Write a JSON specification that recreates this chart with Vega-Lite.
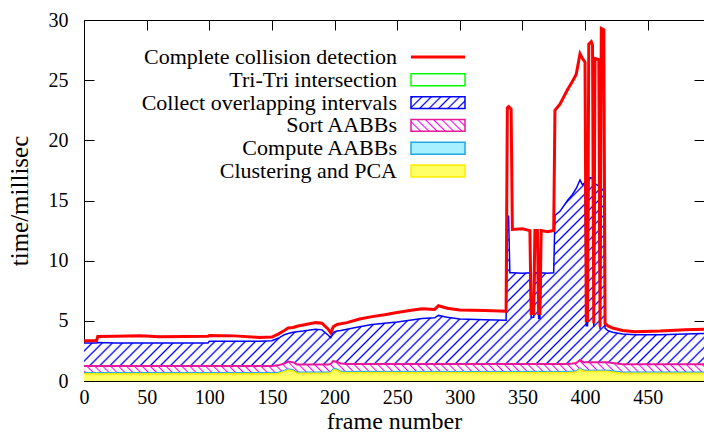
{
  "$schema": "https://vega.github.io/schema/vega-lite/v6.json",
  "width": 620,
  "height": 361,
  "autosize": {"type": "none"},
  "padding": {"left": 84, "top": 20, "right": 0, "bottom": 52},
  "background": "white",
  "config": {
    "font": "Liberation Serif, Times New Roman, Times, serif",
    "view": {"stroke": "black", "strokeWidth": 1}
  },
  "data": {"values": [
    {"f":0,"p":0.6,"a":0.7,"s":1.25,"c":3.15,"t":3.35},
    {"f":10,"p":0.6,"a":0.7,"s":1.25,"c":3.15,"t":3.35},
    {"f":11,"p":0.6,"a":0.7,"s":1.25,"c":3.2,"t":3.7},
    {"f":25,"p":0.6,"a":0.7,"s":1.25,"c":3.15,"t":3.72},
    {"f":45,"p":0.6,"a":0.7,"s":1.25,"c":3.15,"t":3.76},
    {"f":60,"p":0.6,"a":0.7,"s":1.25,"c":3.15,"t":3.68},
    {"f":80,"p":0.6,"a":0.7,"s":1.25,"c":3.15,"t":3.7},
    {"f":99,"p":0.6,"a":0.7,"s":1.25,"c":3.15,"t":3.72},
    {"f":100,"p":0.6,"a":0.7,"s":1.25,"c":3.3,"t":3.78},
    {"f":120,"p":0.6,"a":0.7,"s":1.25,"c":3.3,"t":3.75},
    {"f":140,"p":0.6,"a":0.7,"s":1.25,"c":3.3,"t":3.62},
    {"f":150,"p":0.6,"a":0.7,"s":1.25,"c":3.35,"t":3.65},
    {"f":155,"p":0.62,"a":0.72,"s":1.3,"c":3.55,"t":3.9},
    {"f":160,"p":0.8,"a":0.9,"s":1.45,"c":3.85,"t":4.2},
    {"f":163,"p":0.92,"a":1.02,"s":1.62,"c":3.95,"t":4.4},
    {"f":167,"p":0.85,"a":0.95,"s":1.55,"c":4.05,"t":4.45},
    {"f":170,"p":0.65,"a":0.75,"s":1.38,"c":4.1,"t":4.55},
    {"f":175,"p":0.65,"a":0.75,"s":1.38,"c":4.15,"t":4.65},
    {"f":185,"p":0.65,"a":0.75,"s":1.38,"c":4.3,"t":4.85},
    {"f":190,"p":0.65,"a":0.75,"s":1.38,"c":4.25,"t":4.8},
    {"f":195,"p":0.65,"a":0.75,"s":1.38,"c":3.8,"t":4.3},
    {"f":197,"p":0.68,"a":0.78,"s":1.42,"c":3.6,"t":4.0},
    {"f":199,"p":0.95,"a":1.05,"s":1.65,"c":4.05,"t":4.5},
    {"f":202,"p":0.9,"a":1.0,"s":1.6,"c":4.15,"t":4.7},
    {"f":205,"p":0.72,"a":0.82,"s":1.45,"c":4.2,"t":4.75},
    {"f":210,"p":0.7,"a":0.8,"s":1.42,"c":4.3,"t":4.85},
    {"f":220,"p":0.7,"a":0.8,"s":1.42,"c":4.5,"t":5.15},
    {"f":230,"p":0.7,"a":0.8,"s":1.42,"c":4.7,"t":5.35},
    {"f":240,"p":0.7,"a":0.8,"s":1.42,"c":4.8,"t":5.5},
    {"f":250,"p":0.7,"a":0.8,"s":1.42,"c":4.9,"t":5.7},
    {"f":260,"p":0.7,"a":0.8,"s":1.42,"c":5.05,"t":5.85},
    {"f":270,"p":0.7,"a":0.8,"s":1.42,"c":5.2,"t":6.0},
    {"f":280,"p":0.7,"a":0.8,"s":1.42,"c":5.25,"t":5.95},
    {"f":283,"p":0.7,"a":0.8,"s":1.42,"c":5.45,"t":6.25},
    {"f":290,"p":0.7,"a":0.8,"s":1.42,"c":5.3,"t":6.05},
    {"f":300,"p":0.7,"a":0.8,"s":1.42,"c":5.15,"t":5.9},
    {"f":320,"p":0.7,"a":0.8,"s":1.42,"c":5.1,"t":5.85},
    {"f":337,"p":0.7,"a":0.8,"s":1.42,"c":5.05,"t":5.8},
    {"f":338,"p":0.7,"a":0.8,"s":1.42,"c":13.7,"t":22.7},
    {"f":339,"p":0.7,"a":0.8,"s":1.42,"c":13.7,"t":22.8},
    {"f":340,"p":0.7,"a":0.8,"s":1.42,"c":9.0,"t":22.7},
    {"f":341,"p":0.7,"a":0.8,"s":1.42,"c":9.0,"t":22.6},
    {"f":342,"p":0.7,"a":0.8,"s":1.42,"c":9.0,"t":12.6},
    {"f":350,"p":0.7,"a":0.8,"s":1.42,"c":8.95,"t":12.65},
    {"f":356,"p":0.7,"a":0.8,"s":1.42,"c":9.0,"t":12.5},
    {"f":357,"p":0.7,"a":0.8,"s":1.42,"c":5.3,"t":5.6},
    {"f":359,"p":0.7,"a":0.8,"s":1.42,"c":5.3,"t":5.6},
    {"f":360,"p":0.7,"a":0.8,"s":1.42,"c":9.0,"t":12.5},
    {"f":362,"p":0.7,"a":0.8,"s":1.42,"c":9.0,"t":12.5},
    {"f":363,"p":0.7,"a":0.8,"s":1.42,"c":5.2,"t":5.6},
    {"f":364,"p":0.7,"a":0.8,"s":1.42,"c":5.2,"t":5.6},
    {"f":365,"p":0.7,"a":0.8,"s":1.42,"c":9.0,"t":12.5},
    {"f":370,"p":0.7,"a":0.8,"s":1.42,"c":8.95,"t":12.4},
    {"f":375,"p":0.7,"a":0.8,"s":1.42,"c":9.0,"t":12.5},
    {"f":376,"p":0.7,"a":0.8,"s":1.42,"c":13.75,"t":22.5},
    {"f":380,"p":0.7,"a":0.8,"s":1.42,"c":14.1,"t":23.0},
    {"f":386,"p":0.7,"a":0.8,"s":1.42,"c":15.0,"t":24.2},
    {"f":390,"p":0.72,"a":0.82,"s":1.45,"c":15.5,"t":24.9},
    {"f":393,"p":0.75,"a":0.85,"s":1.5,"c":16.0,"t":25.5},
    {"f":396,"p":1.0,"a":1.1,"s":1.75,"c":16.7,"t":27.2},
    {"f":398,"p":0.85,"a":0.95,"s":1.6,"c":16.3,"t":26.8},
    {"f":400,"p":0.8,"a":0.9,"s":1.55,"c":16.5,"t":26.5},
    {"f":401,"p":0.8,"a":0.9,"s":1.55,"c":4.6,"t":5.0},
    {"f":402,"p":0.8,"a":0.9,"s":1.55,"c":4.6,"t":5.0},
    {"f":403,"p":0.8,"a":0.9,"s":1.55,"c":16.9,"t":28.0},
    {"f":405,"p":0.8,"a":0.9,"s":1.55,"c":16.9,"t":28.2},
    {"f":406,"p":0.8,"a":0.9,"s":1.55,"c":16.8,"t":27.9},
    {"f":407,"p":0.8,"a":0.9,"s":1.55,"c":4.5,"t":4.8},
    {"f":408,"p":0.8,"a":0.9,"s":1.55,"c":16.4,"t":26.8},
    {"f":411,"p":0.8,"a":0.9,"s":1.55,"c":16.2,"t":26.7},
    {"f":412,"p":0.8,"a":0.9,"s":1.55,"c":4.3,"t":4.5},
    {"f":413,"p":0.8,"a":0.9,"s":1.55,"c":16.0,"t":29.3},
    {"f":415,"p":0.8,"a":0.9,"s":1.55,"c":15.8,"t":29.2},
    {"f":416,"p":0.8,"a":0.9,"s":1.55,"c":4.4,"t":4.8},
    {"f":418,"p":0.8,"a":0.9,"s":1.55,"c":4.2,"t":4.6},
    {"f":422,"p":0.75,"a":0.85,"s":1.5,"c":4.05,"t":4.4},
    {"f":430,"p":0.65,"a":0.75,"s":1.4,"c":3.9,"t":4.2},
    {"f":440,"p":0.65,"a":0.75,"s":1.4,"c":3.85,"t":4.1},
    {"f":460,"p":0.65,"a":0.75,"s":1.4,"c":3.85,"t":4.15},
    {"f":480,"p":0.65,"a":0.75,"s":1.4,"c":3.9,"t":4.25},
    {"f":495,"p":0.65,"a":0.75,"s":1.4,"c":3.95,"t":4.3}
  ]},
  "encoding": {
    "x": {"field": "f", "type": "quantitative", "scale": {"domain": [0, 495], "nice": false, "zero": false}, "axis": null}
  },
  "resolve": {"axis": {"x": "independent", "y": "independent"}},
  "layer": [
    {
      "mark": {"type": "area", "fill": {"gradient": "linear", "x1": 0, "y1": 0, "x2": 1.1936, "y2": 0.3627, "stops": [
        {"offset":0,"color":"#fff"},{"offset":0.00225,"color":"#00f"},{"offset":0.0045,"color":"#fff"},
        {"offset":0.0125,"color":"#fff"},{"offset":0.01475,"color":"#00f"},{"offset":0.017,"color":"#fff"},
        {"offset":0.025,"color":"#fff"},{"offset":0.02725,"color":"#00f"},{"offset":0.0295,"color":"#fff"},
        {"offset":0.0375,"color":"#fff"},{"offset":0.03975,"color":"#00f"},{"offset":0.042,"color":"#fff"},
        {"offset":0.05,"color":"#fff"},{"offset":0.05225,"color":"#00f"},{"offset":0.0545,"color":"#fff"},
        {"offset":0.0625,"color":"#fff"},{"offset":0.06475,"color":"#00f"},{"offset":0.067,"color":"#fff"},
        {"offset":0.075,"color":"#fff"},{"offset":0.07725,"color":"#00f"},{"offset":0.0795,"color":"#fff"},
        {"offset":0.0875,"color":"#fff"},{"offset":0.08975,"color":"#00f"},{"offset":0.092,"color":"#fff"},
        {"offset":0.1,"color":"#fff"},{"offset":0.10225,"color":"#00f"},{"offset":0.1045,"color":"#fff"},
        {"offset":0.1125,"color":"#fff"},{"offset":0.11475,"color":"#00f"},{"offset":0.117,"color":"#fff"},
        {"offset":0.125,"color":"#fff"},{"offset":0.12725,"color":"#00f"},{"offset":0.1295,"color":"#fff"},
        {"offset":0.1375,"color":"#fff"},{"offset":0.13975,"color":"#00f"},{"offset":0.142,"color":"#fff"},
        {"offset":0.15,"color":"#fff"},{"offset":0.15225,"color":"#00f"},{"offset":0.1545,"color":"#fff"},
        {"offset":0.1625,"color":"#fff"},{"offset":0.16475,"color":"#00f"},{"offset":0.167,"color":"#fff"},
        {"offset":0.175,"color":"#fff"},{"offset":0.17725,"color":"#00f"},{"offset":0.1795,"color":"#fff"},
        {"offset":0.1875,"color":"#fff"},{"offset":0.18975,"color":"#00f"},{"offset":0.192,"color":"#fff"},
        {"offset":0.2,"color":"#fff"},{"offset":0.20225,"color":"#00f"},{"offset":0.2045,"color":"#fff"},
        {"offset":0.2125,"color":"#fff"},{"offset":0.21475,"color":"#00f"},{"offset":0.217,"color":"#fff"},
        {"offset":0.225,"color":"#fff"},{"offset":0.22725,"color":"#00f"},{"offset":0.2295,"color":"#fff"},
        {"offset":0.2375,"color":"#fff"},{"offset":0.23975,"color":"#00f"},{"offset":0.242,"color":"#fff"},
        {"offset":0.25,"color":"#fff"},{"offset":0.25225,"color":"#00f"},{"offset":0.2545,"color":"#fff"},
        {"offset":0.2625,"color":"#fff"},{"offset":0.26475,"color":"#00f"},{"offset":0.267,"color":"#fff"},
        {"offset":0.275,"color":"#fff"},{"offset":0.27725,"color":"#00f"},{"offset":0.2795,"color":"#fff"},
        {"offset":0.2875,"color":"#fff"},{"offset":0.28975,"color":"#00f"},{"offset":0.292,"color":"#fff"},
        {"offset":0.3,"color":"#fff"},{"offset":0.30225,"color":"#00f"},{"offset":0.3045,"color":"#fff"},
        {"offset":0.3125,"color":"#fff"},{"offset":0.31475,"color":"#00f"},{"offset":0.317,"color":"#fff"},
        {"offset":0.325,"color":"#fff"},{"offset":0.32725,"color":"#00f"},{"offset":0.3295,"color":"#fff"},
        {"offset":0.3375,"color":"#fff"},{"offset":0.33975,"color":"#00f"},{"offset":0.342,"color":"#fff"},
        {"offset":0.35,"color":"#fff"},{"offset":0.35225,"color":"#00f"},{"offset":0.3545,"color":"#fff"},
        {"offset":0.3625,"color":"#fff"},{"offset":0.36475,"color":"#00f"},{"offset":0.367,"color":"#fff"},
        {"offset":0.375,"color":"#fff"},{"offset":0.37725,"color":"#00f"},{"offset":0.3795,"color":"#fff"},
        {"offset":0.3875,"color":"#fff"},{"offset":0.38975,"color":"#00f"},{"offset":0.392,"color":"#fff"},
        {"offset":0.4,"color":"#fff"},{"offset":0.40225,"color":"#00f"},{"offset":0.4045,"color":"#fff"},
        {"offset":0.4125,"color":"#fff"},{"offset":0.41475,"color":"#00f"},{"offset":0.417,"color":"#fff"},
        {"offset":0.425,"color":"#fff"},{"offset":0.42725,"color":"#00f"},{"offset":0.4295,"color":"#fff"},
        {"offset":0.4375,"color":"#fff"},{"offset":0.43975,"color":"#00f"},{"offset":0.442,"color":"#fff"},
        {"offset":0.45,"color":"#fff"},{"offset":0.45225,"color":"#00f"},{"offset":0.4545,"color":"#fff"},
        {"offset":0.4625,"color":"#fff"},{"offset":0.46475,"color":"#00f"},{"offset":0.467,"color":"#fff"},
        {"offset":0.475,"color":"#fff"},{"offset":0.47725,"color":"#00f"},{"offset":0.4795,"color":"#fff"},
        {"offset":0.4875,"color":"#fff"},{"offset":0.48975,"color":"#00f"},{"offset":0.492,"color":"#fff"},
        {"offset":0.5,"color":"#fff"},{"offset":0.50225,"color":"#00f"},{"offset":0.5045,"color":"#fff"},
        {"offset":0.5125,"color":"#fff"},{"offset":0.51475,"color":"#00f"},{"offset":0.517,"color":"#fff"},
        {"offset":0.525,"color":"#fff"},{"offset":0.52725,"color":"#00f"},{"offset":0.5295,"color":"#fff"},
        {"offset":0.5375,"color":"#fff"},{"offset":0.53975,"color":"#00f"},{"offset":0.542,"color":"#fff"},
        {"offset":0.55,"color":"#fff"},{"offset":0.55225,"color":"#00f"},{"offset":0.5545,"color":"#fff"},
        {"offset":0.5625,"color":"#fff"},{"offset":0.56475,"color":"#00f"},{"offset":0.567,"color":"#fff"},
        {"offset":0.575,"color":"#fff"},{"offset":0.57725,"color":"#00f"},{"offset":0.5795,"color":"#fff"},
        {"offset":0.5875,"color":"#fff"},{"offset":0.58975,"color":"#00f"},{"offset":0.592,"color":"#fff"},
        {"offset":0.6,"color":"#fff"},{"offset":0.60225,"color":"#00f"},{"offset":0.6045,"color":"#fff"},
        {"offset":0.6125,"color":"#fff"},{"offset":0.61475,"color":"#00f"},{"offset":0.617,"color":"#fff"},
        {"offset":0.625,"color":"#fff"},{"offset":0.62725,"color":"#00f"},{"offset":0.6295,"color":"#fff"},
        {"offset":0.6375,"color":"#fff"},{"offset":0.63975,"color":"#00f"},{"offset":0.642,"color":"#fff"},
        {"offset":0.65,"color":"#fff"},{"offset":0.65225,"color":"#00f"},{"offset":0.6545,"color":"#fff"},
        {"offset":0.6625,"color":"#fff"},{"offset":0.66475,"color":"#00f"},{"offset":0.667,"color":"#fff"},
        {"offset":0.675,"color":"#fff"},{"offset":0.67725,"color":"#00f"},{"offset":0.6795,"color":"#fff"},
        {"offset":0.6875,"color":"#fff"},{"offset":0.68975,"color":"#00f"},{"offset":0.692,"color":"#fff"},
        {"offset":0.7,"color":"#fff"},{"offset":0.70225,"color":"#00f"},{"offset":0.7045,"color":"#fff"},
        {"offset":0.7125,"color":"#fff"},{"offset":0.71475,"color":"#00f"},{"offset":0.717,"color":"#fff"},
        {"offset":0.725,"color":"#fff"},{"offset":0.72725,"color":"#00f"},{"offset":0.7295,"color":"#fff"},
        {"offset":0.7375,"color":"#fff"},{"offset":0.73975,"color":"#00f"},{"offset":0.742,"color":"#fff"},
        {"offset":0.75,"color":"#fff"},{"offset":0.75225,"color":"#00f"},{"offset":0.7545,"color":"#fff"},
        {"offset":0.7625,"color":"#fff"},{"offset":0.76475,"color":"#00f"},{"offset":0.767,"color":"#fff"},
        {"offset":0.775,"color":"#fff"},{"offset":0.77725,"color":"#00f"},{"offset":0.7795,"color":"#fff"},
        {"offset":0.7875,"color":"#fff"},{"offset":0.78975,"color":"#00f"},{"offset":0.792,"color":"#fff"},
        {"offset":0.8,"color":"#fff"},{"offset":0.80225,"color":"#00f"},{"offset":0.8045,"color":"#fff"},
        {"offset":0.8125,"color":"#fff"},{"offset":0.81475,"color":"#00f"},{"offset":0.817,"color":"#fff"},
        {"offset":0.825,"color":"#fff"},{"offset":0.82725,"color":"#00f"},{"offset":0.8295,"color":"#fff"},
        {"offset":0.8375,"color":"#fff"},{"offset":0.83975,"color":"#00f"},{"offset":0.842,"color":"#fff"},
        {"offset":0.85,"color":"#fff"},{"offset":0.85225,"color":"#00f"},{"offset":0.8545,"color":"#fff"},
        {"offset":0.8625,"color":"#fff"},{"offset":0.86475,"color":"#00f"},{"offset":0.867,"color":"#fff"},
        {"offset":0.875,"color":"#fff"},{"offset":0.87725,"color":"#00f"},{"offset":0.8795,"color":"#fff"},
        {"offset":0.8875,"color":"#fff"},{"offset":0.88975,"color":"#00f"},{"offset":0.892,"color":"#fff"},
        {"offset":0.9,"color":"#fff"},{"offset":0.90225,"color":"#00f"},{"offset":0.9045,"color":"#fff"},
        {"offset":0.9125,"color":"#fff"},{"offset":0.91475,"color":"#00f"},{"offset":0.917,"color":"#fff"},
        {"offset":0.925,"color":"#fff"},{"offset":0.92725,"color":"#00f"},{"offset":0.9295,"color":"#fff"},
        {"offset":0.9375,"color":"#fff"},{"offset":0.93975,"color":"#00f"},{"offset":0.942,"color":"#fff"},
        {"offset":0.95,"color":"#fff"},{"offset":0.95225,"color":"#00f"},{"offset":0.9545,"color":"#fff"},
        {"offset":0.9625,"color":"#fff"},{"offset":0.96475,"color":"#00f"},{"offset":0.967,"color":"#fff"},
        {"offset":0.975,"color":"#fff"},{"offset":0.97725,"color":"#00f"},{"offset":0.9795,"color":"#fff"},
        {"offset":0.9875,"color":"#fff"},{"offset":0.98975,"color":"#00f"},{"offset":0.992,"color":"#fff"},
        {"offset":1,"color":"#fff"}
      ]}},
      "encoding": {
        "x": {"field": "f", "type": "quantitative", "scale": {"domain": [0, 495], "nice": false, "zero": false},
          "axis": {"orient": "bottom", "values": [0,50,100,150,200,250,300,350,400,450], "title": "frame number",
            "tickSize": -10, "tickColor": "black", "labelPadding": 16, "domain": false, "grid": false,
            "labelFontSize": 20, "titleFontSize": 24,
            "titleFontWeight": "normal", "labelColor": "black", "titleColor": "black", "titlePadding": 2, "labelFlush": false}},
        "y": {"field": "c", "type": "quantitative", "scale": {"domain": [0, 30], "nice": false},
          "axis": {"orient": "left", "values": [0,5,10,15,20,25,30], "title": "time/millisec",
            "tickSize": -10, "tickColor": "black", "labelPadding": 26, "domain": false, "grid": false,
            "labelFontSize": 20, "titleFontSize": 25,
            "titleFontWeight": "normal", "labelColor": "black", "titleColor": "black", "titlePadding": 16, "labelFlush": false}},
        "y2": {"field": "s"}
      }
    },
    {
      "mark": {"type": "area", "fill": {"gradient": "linear", "x1": 0, "y1": 1, "x2": 1.02, "y2": 0.9792, "stops": [
        {"offset":0,"color":"#fff"},{"offset":0.00225,"color":"#f0f"},{"offset":0.0045,"color":"#fff"},
        {"offset":0.0125,"color":"#fff"},{"offset":0.01475,"color":"#f0f"},{"offset":0.017,"color":"#fff"},
        {"offset":0.025,"color":"#fff"},{"offset":0.02725,"color":"#f0f"},{"offset":0.0295,"color":"#fff"},
        {"offset":0.0375,"color":"#fff"},{"offset":0.03975,"color":"#f0f"},{"offset":0.042,"color":"#fff"},
        {"offset":0.05,"color":"#fff"},{"offset":0.05225,"color":"#f0f"},{"offset":0.0545,"color":"#fff"},
        {"offset":0.0625,"color":"#fff"},{"offset":0.06475,"color":"#f0f"},{"offset":0.067,"color":"#fff"},
        {"offset":0.075,"color":"#fff"},{"offset":0.07725,"color":"#f0f"},{"offset":0.0795,"color":"#fff"},
        {"offset":0.0875,"color":"#fff"},{"offset":0.08975,"color":"#f0f"},{"offset":0.092,"color":"#fff"},
        {"offset":0.1,"color":"#fff"},{"offset":0.10225,"color":"#f0f"},{"offset":0.1045,"color":"#fff"},
        {"offset":0.1125,"color":"#fff"},{"offset":0.11475,"color":"#f0f"},{"offset":0.117,"color":"#fff"},
        {"offset":0.125,"color":"#fff"},{"offset":0.12725,"color":"#f0f"},{"offset":0.1295,"color":"#fff"},
        {"offset":0.1375,"color":"#fff"},{"offset":0.13975,"color":"#f0f"},{"offset":0.142,"color":"#fff"},
        {"offset":0.15,"color":"#fff"},{"offset":0.15225,"color":"#f0f"},{"offset":0.1545,"color":"#fff"},
        {"offset":0.1625,"color":"#fff"},{"offset":0.16475,"color":"#f0f"},{"offset":0.167,"color":"#fff"},
        {"offset":0.175,"color":"#fff"},{"offset":0.17725,"color":"#f0f"},{"offset":0.1795,"color":"#fff"},
        {"offset":0.1875,"color":"#fff"},{"offset":0.18975,"color":"#f0f"},{"offset":0.192,"color":"#fff"},
        {"offset":0.2,"color":"#fff"},{"offset":0.20225,"color":"#f0f"},{"offset":0.2045,"color":"#fff"},
        {"offset":0.2125,"color":"#fff"},{"offset":0.21475,"color":"#f0f"},{"offset":0.217,"color":"#fff"},
        {"offset":0.225,"color":"#fff"},{"offset":0.22725,"color":"#f0f"},{"offset":0.2295,"color":"#fff"},
        {"offset":0.2375,"color":"#fff"},{"offset":0.23975,"color":"#f0f"},{"offset":0.242,"color":"#fff"},
        {"offset":0.25,"color":"#fff"},{"offset":0.25225,"color":"#f0f"},{"offset":0.2545,"color":"#fff"},
        {"offset":0.2625,"color":"#fff"},{"offset":0.26475,"color":"#f0f"},{"offset":0.267,"color":"#fff"},
        {"offset":0.275,"color":"#fff"},{"offset":0.27725,"color":"#f0f"},{"offset":0.2795,"color":"#fff"},
        {"offset":0.2875,"color":"#fff"},{"offset":0.28975,"color":"#f0f"},{"offset":0.292,"color":"#fff"},
        {"offset":0.3,"color":"#fff"},{"offset":0.30225,"color":"#f0f"},{"offset":0.3045,"color":"#fff"},
        {"offset":0.3125,"color":"#fff"},{"offset":0.31475,"color":"#f0f"},{"offset":0.317,"color":"#fff"},
        {"offset":0.325,"color":"#fff"},{"offset":0.32725,"color":"#f0f"},{"offset":0.3295,"color":"#fff"},
        {"offset":0.3375,"color":"#fff"},{"offset":0.33975,"color":"#f0f"},{"offset":0.342,"color":"#fff"},
        {"offset":0.35,"color":"#fff"},{"offset":0.35225,"color":"#f0f"},{"offset":0.3545,"color":"#fff"},
        {"offset":0.3625,"color":"#fff"},{"offset":0.36475,"color":"#f0f"},{"offset":0.367,"color":"#fff"},
        {"offset":0.375,"color":"#fff"},{"offset":0.37725,"color":"#f0f"},{"offset":0.3795,"color":"#fff"},
        {"offset":0.3875,"color":"#fff"},{"offset":0.38975,"color":"#f0f"},{"offset":0.392,"color":"#fff"},
        {"offset":0.4,"color":"#fff"},{"offset":0.40225,"color":"#f0f"},{"offset":0.4045,"color":"#fff"},
        {"offset":0.4125,"color":"#fff"},{"offset":0.41475,"color":"#f0f"},{"offset":0.417,"color":"#fff"},
        {"offset":0.425,"color":"#fff"},{"offset":0.42725,"color":"#f0f"},{"offset":0.4295,"color":"#fff"},
        {"offset":0.4375,"color":"#fff"},{"offset":0.43975,"color":"#f0f"},{"offset":0.442,"color":"#fff"},
        {"offset":0.45,"color":"#fff"},{"offset":0.45225,"color":"#f0f"},{"offset":0.4545,"color":"#fff"},
        {"offset":0.4625,"color":"#fff"},{"offset":0.46475,"color":"#f0f"},{"offset":0.467,"color":"#fff"},
        {"offset":0.475,"color":"#fff"},{"offset":0.47725,"color":"#f0f"},{"offset":0.4795,"color":"#fff"},
        {"offset":0.4875,"color":"#fff"},{"offset":0.48975,"color":"#f0f"},{"offset":0.492,"color":"#fff"},
        {"offset":0.5,"color":"#fff"},{"offset":0.50225,"color":"#f0f"},{"offset":0.5045,"color":"#fff"},
        {"offset":0.5125,"color":"#fff"},{"offset":0.51475,"color":"#f0f"},{"offset":0.517,"color":"#fff"},
        {"offset":0.525,"color":"#fff"},{"offset":0.52725,"color":"#f0f"},{"offset":0.5295,"color":"#fff"},
        {"offset":0.5375,"color":"#fff"},{"offset":0.53975,"color":"#f0f"},{"offset":0.542,"color":"#fff"},
        {"offset":0.55,"color":"#fff"},{"offset":0.55225,"color":"#f0f"},{"offset":0.5545,"color":"#fff"},
        {"offset":0.5625,"color":"#fff"},{"offset":0.56475,"color":"#f0f"},{"offset":0.567,"color":"#fff"},
        {"offset":0.575,"color":"#fff"},{"offset":0.57725,"color":"#f0f"},{"offset":0.5795,"color":"#fff"},
        {"offset":0.5875,"color":"#fff"},{"offset":0.58975,"color":"#f0f"},{"offset":0.592,"color":"#fff"},
        {"offset":0.6,"color":"#fff"},{"offset":0.60225,"color":"#f0f"},{"offset":0.6045,"color":"#fff"},
        {"offset":0.6125,"color":"#fff"},{"offset":0.61475,"color":"#f0f"},{"offset":0.617,"color":"#fff"},
        {"offset":0.625,"color":"#fff"},{"offset":0.62725,"color":"#f0f"},{"offset":0.6295,"color":"#fff"},
        {"offset":0.6375,"color":"#fff"},{"offset":0.63975,"color":"#f0f"},{"offset":0.642,"color":"#fff"},
        {"offset":0.65,"color":"#fff"},{"offset":0.65225,"color":"#f0f"},{"offset":0.6545,"color":"#fff"},
        {"offset":0.6625,"color":"#fff"},{"offset":0.66475,"color":"#f0f"},{"offset":0.667,"color":"#fff"},
        {"offset":0.675,"color":"#fff"},{"offset":0.67725,"color":"#f0f"},{"offset":0.6795,"color":"#fff"},
        {"offset":0.6875,"color":"#fff"},{"offset":0.68975,"color":"#f0f"},{"offset":0.692,"color":"#fff"},
        {"offset":0.7,"color":"#fff"},{"offset":0.70225,"color":"#f0f"},{"offset":0.7045,"color":"#fff"},
        {"offset":0.7125,"color":"#fff"},{"offset":0.71475,"color":"#f0f"},{"offset":0.717,"color":"#fff"},
        {"offset":0.725,"color":"#fff"},{"offset":0.72725,"color":"#f0f"},{"offset":0.7295,"color":"#fff"},
        {"offset":0.7375,"color":"#fff"},{"offset":0.73975,"color":"#f0f"},{"offset":0.742,"color":"#fff"},
        {"offset":0.75,"color":"#fff"},{"offset":0.75225,"color":"#f0f"},{"offset":0.7545,"color":"#fff"},
        {"offset":0.7625,"color":"#fff"},{"offset":0.76475,"color":"#f0f"},{"offset":0.767,"color":"#fff"},
        {"offset":0.775,"color":"#fff"},{"offset":0.77725,"color":"#f0f"},{"offset":0.7795,"color":"#fff"},
        {"offset":0.7875,"color":"#fff"},{"offset":0.78975,"color":"#f0f"},{"offset":0.792,"color":"#fff"},
        {"offset":0.8,"color":"#fff"},{"offset":0.80225,"color":"#f0f"},{"offset":0.8045,"color":"#fff"},
        {"offset":0.8125,"color":"#fff"},{"offset":0.81475,"color":"#f0f"},{"offset":0.817,"color":"#fff"},
        {"offset":0.825,"color":"#fff"},{"offset":0.82725,"color":"#f0f"},{"offset":0.8295,"color":"#fff"},
        {"offset":0.8375,"color":"#fff"},{"offset":0.83975,"color":"#f0f"},{"offset":0.842,"color":"#fff"},
        {"offset":0.85,"color":"#fff"},{"offset":0.85225,"color":"#f0f"},{"offset":0.8545,"color":"#fff"},
        {"offset":0.8625,"color":"#fff"},{"offset":0.86475,"color":"#f0f"},{"offset":0.867,"color":"#fff"},
        {"offset":0.875,"color":"#fff"},{"offset":0.87725,"color":"#f0f"},{"offset":0.8795,"color":"#fff"},
        {"offset":0.8875,"color":"#fff"},{"offset":0.88975,"color":"#f0f"},{"offset":0.892,"color":"#fff"},
        {"offset":0.9,"color":"#fff"},{"offset":0.90225,"color":"#f0f"},{"offset":0.9045,"color":"#fff"},
        {"offset":0.9125,"color":"#fff"},{"offset":0.91475,"color":"#f0f"},{"offset":0.917,"color":"#fff"},
        {"offset":0.925,"color":"#fff"},{"offset":0.92725,"color":"#f0f"},{"offset":0.9295,"color":"#fff"},
        {"offset":0.9375,"color":"#fff"},{"offset":0.93975,"color":"#f0f"},{"offset":0.942,"color":"#fff"},
        {"offset":0.95,"color":"#fff"},{"offset":0.95225,"color":"#f0f"},{"offset":0.9545,"color":"#fff"},
        {"offset":0.9625,"color":"#fff"},{"offset":0.96475,"color":"#f0f"},{"offset":0.967,"color":"#fff"},
        {"offset":0.975,"color":"#fff"},{"offset":0.97725,"color":"#f0f"},{"offset":0.9795,"color":"#fff"},
        {"offset":0.9875,"color":"#fff"},{"offset":0.98975,"color":"#f0f"},{"offset":0.992,"color":"#fff"},
        {"offset":1,"color":"#fff"}
      ]}},
      "encoding": {
        "y": {"field": "s", "type": "quantitative", "scale": {"domain": [0, 30], "nice": false}, "axis": null},
        "y2": {"field": "a"}
      }
    },
    {
      "mark": {"type": "area", "fill": "#a8f0ff"},
      "encoding": {
        "y": {"field": "a", "type": "quantitative", "scale": {"domain": [0, 30], "nice": false}, "axis": null},
        "y2": {"field": "p"}
      }
    },
    {
      "mark": {"type": "area", "fill": "#ffff66"},
      "encoding": {
        "x": {"field": "f", "type": "quantitative", "scale": {"domain": [0, 495], "nice": false, "zero": false},
          "axis": {"orient": "top", "values": [0,50,100,150,200,250,300,350,400,450], "labels": false, "title": null,
            "tickSize": -10, "tickColor": "black", "domain": false, "grid": false}},
        "y": {"field": "p", "type": "quantitative", "scale": {"domain": [0, 30], "nice": false},
          "axis": {"orient": "right", "values": [0,5,10,15,20,25,30], "labels": false, "title": null,
            "tickSize": -10, "tickColor": "black", "domain": false, "grid": false}}
      }
    },
    {
      "mark": {"type": "line", "strokeWidth": 2},
      "encoding": {
        "y": {"field": "p", "type": "quantitative", "scale": {"domain": [0, 30], "nice": false}, "axis": null},
        "stroke": {"datum": "Clustering and PCA"}
      }
    },
    {
      "mark": {"type": "line", "strokeWidth": 1},
      "encoding": {
        "y": {"field": "a", "type": "quantitative", "scale": {"domain": [0, 30], "nice": false}, "axis": null},
        "stroke": {"datum": "Compute AABBs"}
      }
    },
    {
      "mark": {"type": "line", "strokeWidth": 2},
      "encoding": {
        "y": {"field": "s", "type": "quantitative", "scale": {"domain": [0, 30], "nice": false}, "axis": null},
        "stroke": {"datum": "Sort AABBs"}
      }
    },
    {
      "mark": {"type": "line", "strokeWidth": 1.5},
      "encoding": {
        "y": {"field": "c", "type": "quantitative", "scale": {"domain": [0, 30], "nice": false}, "axis": null},
        "stroke": {"datum": "Collect overlapping intervals"}
      }
    },
    {
      "mark": {"type": "line", "strokeWidth": 3},
      "encoding": {
        "y": {"field": "t", "type": "quantitative", "scale": {"domain": [0, 30], "nice": false}, "axis": null},
        "stroke": {
          "datum": "Complete collision detection",
          "scale": {
            "domain": ["Complete collision detection", "Tri-Tri intersection", "Collect overlapping intervals", "Sort AABBs", "Compute AABBs", "Clustering and PCA"],
            "range": ["#ff0000", "#00ff00", "#0000ff", "#e8189a", "#1ea8e6", "#ffee00"]
          },
          "legend": {
            "orient": "none", "legendX": 343, "legendY": 26, "title": null,
            "symbolType": "M-3,-0.66H3V0.66H-3Z", "symbolSize": 324, "symbolStrokeWidth": 1.5,
            "labelAlign": "right", "labelOffset": -52, "labelFontSize": 22,
            "labelColor": "black", "labelLimit": 0, "rowPadding": 0.8, "padding": 0,
            "encode": {
              "symbols": {
                "update": {
                  "shape": {"signal": "datum.value === 'Complete collision detection' ? 'M-3,0H3' : 'M-3,-0.66H3V0.66H-3Z'"},
                  "fill": {"signal": "datum.value === 'Collect overlapping intervals' ? {gradient: 'linear', x1: 0, y1: 0, x2: 1.1647, y2: 0.2588, stops: [{offset: 0, color: '#fff'}, {offset: 0.0257, color: '#00f'}, {offset: 0.0514, color: '#fff'}, {offset: 0.1429, color: '#fff'}, {offset: 0.1686, color: '#00f'}, {offset: 0.1943, color: '#fff'}, {offset: 0.2857, color: '#fff'}, {offset: 0.3114, color: '#00f'}, {offset: 0.3371, color: '#fff'}, {offset: 0.4286, color: '#fff'}, {offset: 0.4543, color: '#00f'}, {offset: 0.48, color: '#fff'}, {offset: 0.5714, color: '#fff'}, {offset: 0.5971, color: '#00f'}, {offset: 0.6228, color: '#fff'}, {offset: 0.7143, color: '#fff'}, {offset: 0.74, color: '#00f'}, {offset: 0.7657, color: '#fff'}, {offset: 0.8571, color: '#fff'}, {offset: 0.8828, color: '#00f'}, {offset: 0.9085, color: '#fff'}, {offset: 1, color: '#fff'}]} : datum.value === 'Sort AABBs' ? {gradient: 'linear', x1: 0, y1: 1, x2: 1.1647, y2: 0.7412, stops: [{offset: 0, color: '#fff'}, {offset: 0.0225, color: '#f0f'}, {offset: 0.045, color: '#fff'}, {offset: 0.125, color: '#fff'}, {offset: 0.1475, color: '#f0f'}, {offset: 0.17, color: '#fff'}, {offset: 0.25, color: '#fff'}, {offset: 0.2725, color: '#f0f'}, {offset: 0.295, color: '#fff'}, {offset: 0.375, color: '#fff'}, {offset: 0.3975, color: '#f0f'}, {offset: 0.42, color: '#fff'}, {offset: 0.5, color: '#fff'}, {offset: 0.5225, color: '#f0f'}, {offset: 0.545, color: '#fff'}, {offset: 0.625, color: '#fff'}, {offset: 0.6475, color: '#f0f'}, {offset: 0.67, color: '#fff'}, {offset: 0.75, color: '#fff'}, {offset: 0.7725, color: '#f0f'}, {offset: 0.795, color: '#fff'}, {offset: 0.875, color: '#fff'}, {offset: 0.8975, color: '#f0f'}, {offset: 0.92, color: '#fff'}, {offset: 1, color: '#fff'}]} : (({'Tri-Tri intersection': '#ffffff', 'Compute AABBs': '#a8f0ff', 'Clustering and PCA': '#ffff66'})[datum.value] || 'transparent')"},
                  "strokeWidth": {"signal": "datum.value === 'Complete collision detection' ? 3 : 1.5"}
                }
              }
            }
          }
        }
      }
    }
  ]
}
